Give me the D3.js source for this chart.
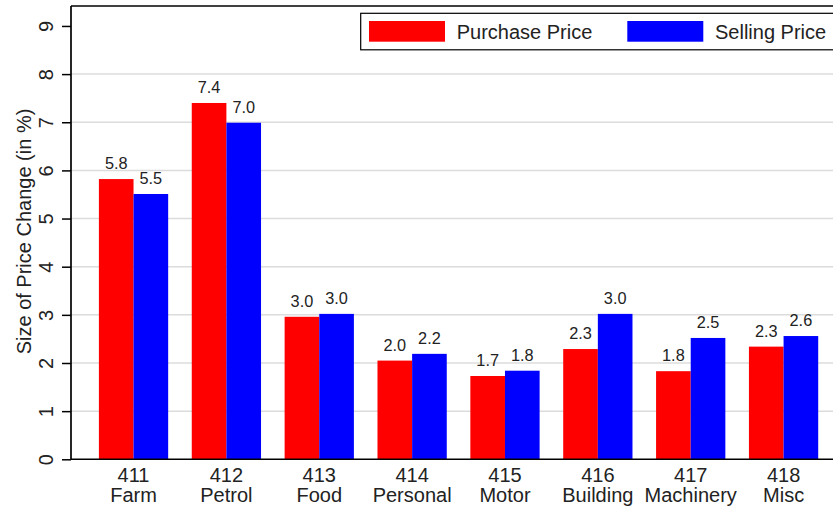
<!DOCTYPE html>
<html>
<head>
<meta charset="utf-8">
<script src="https://cdn.jsdelivr.net/npm/d3@7"></script>
<style>
  html, body { margin: 0; padding: 0; background: #fff; }
  svg { display: block; font-family: Arial, "Liberation Sans", sans-serif; }
</style>
</head>
<body>
<svg id="chart" width="833" height="510"></svg>
<script>
const codes = ["411", "412", "413", "414", "415", "416", "417", "418"];
const names = ["Farm", "Petrol", "Food", "Personal", "Motor", "Building", "Machinery", "Misc"];
const purchasePrice = [5.82, 7.40, 2.96, 2.05, 1.73, 2.29, 1.83, 2.34];
const sellingPrice  = [5.51, 6.99, 3.02, 2.19, 1.84, 3.02, 2.52, 2.56];
const seriesNames = ["Purchase Price", "Selling Price"];
const seriesColors = ["#ff0000", "#0000ff"];
const yTicks = [0, 1, 2, 3, 4, 5, 6, 7, 8, 9];

(function () {
const svg = d3.select("#chart");
const pLeft = 71, pTop = 6, pBottom = 459.3, pRight = 850;

const y = d3.scaleLinear().domain([0, 9]).range([pBottom, pBottom - 9 * 48.15]);
const x = d3.scaleBand().domain(codes).range([87.1, 830]).paddingInner(0.254).paddingOuter(0.127);
const xs = d3.scaleBand().domain(seriesNames).range([0, x.bandwidth()]);

// gridlines
svg.append("g").selectAll("line").data(yTicks.filter(t => t > 0 && t < 9)).join("line")
  .attr("x1", pLeft).attr("x2", pRight)
  .attr("y1", d => y(d)).attr("y2", d => y(d))
  .attr("stroke", "#dcdcdc").attr("stroke-width", 1.5);

// bars
const data = codes.map((c, i) => ({ code: c, vals: [purchasePrice[i], sellingPrice[i]] }));
const groups = svg.append("g").selectAll("g").data(data).join("g")
  .attr("transform", d => `translate(${x(d.code)},0)`);
groups.selectAll("rect").data(d => d.vals.map((v, j) => ({ v, s: seriesNames[j], j }))).join("rect")
  .attr("x", d => xs(d.s)).attr("width", xs.bandwidth())
  .attr("y", d => y(d.v)).attr("height", d => y(0) - y(d.v))
  .attr("fill", d => seriesColors[d.j]);
groups.selectAll("text").data(d => d.vals.map((v, j) => ({ v, s: seriesNames[j] }))).join("text")
  .attr("x", d => xs(d.s) + xs.bandwidth() / 2)
  .attr("y", d => y(d.v) - 10)
  .attr("text-anchor", "middle")
  .attr("font-size", 16.3).attr("fill", "#222")
  .text(d => d3.format(".1f")(d.v));

// frame: top line
svg.append("line").attr("x1", pLeft).attr("x2", pRight).attr("y1", pTop).attr("y2", pTop)
  .attr("stroke", "#000").attr("stroke-width", 1.5);

// y axis
const yAxis = svg.append("g").attr("transform", `translate(${pLeft},0)`)
  .call(d3.axisLeft(y).tickValues(yTicks).tickSize(9).tickFormat(d3.format("d")));
yAxis.select(".domain").attr("d", `M0,${pTop}V${pBottom}`).attr("stroke-width", 1.7);
yAxis.selectAll(".tick line").attr("stroke-width", 1.5);
yAxis.selectAll(".tick text")
  .attr("font-size", 20).attr("font-family", "Arial, 'Liberation Sans', sans-serif").attr("fill", "#222")
  .attr("x", 0).attr("dy", null).attr("y", 0)
  .attr("text-anchor", "middle")
  .attr("transform", `translate(${53 - pLeft},0) rotate(-90)`);

// x axis
const xAxis = svg.append("g").attr("transform", `translate(0,${pBottom})`)
  .call(d3.axisBottom(x).tickSize(0).tickFormat(""));
xAxis.select(".domain").attr("d", `M${pLeft},0H${pRight}`).attr("stroke-width", 1.5);
xAxis.selectAll(".tick").each(function(d, i) {
  const t = d3.select(this).append("text").attr("fill", "#222").attr("font-size", 20)
    .attr("font-family", "Arial, 'Liberation Sans', sans-serif").attr("text-anchor", "middle");
  t.append("tspan").attr("x", 0).attr("y", 23.2).text(codes[i]);
  t.append("tspan").attr("x", 0).attr("y", 42.7).text(names[i]);
});

// y title
svg.append("text")
  .attr("transform", `translate(30.7,231.5) rotate(-90)`)
  .attr("text-anchor", "middle").attr("font-size", 20).attr("fill", "#222")
  .text("Size of Price Change (in %)");

// legend
const lg = svg.append("g");
lg.append("rect").attr("x", 360.7).attr("y", 13.3).attr("width", 500).attr("height", 36.5)
  .attr("fill", "#fff").attr("stroke", "#000").attr("stroke-width", 1.2);
const legX = [369, 627.3];
seriesNames.forEach((s, j) => {
  lg.append("rect").attr("x", legX[j]).attr("y", 21).attr("width", 76).attr("height", 20.7)
    .attr("fill", seriesColors[j]);
  lg.append("text").attr("x", legX[j] + 87.7).attr("y", 38.8)
    .attr("font-size", 20).attr("fill", "#222").text(s);
});
})();
</script>
</body>
</html>
